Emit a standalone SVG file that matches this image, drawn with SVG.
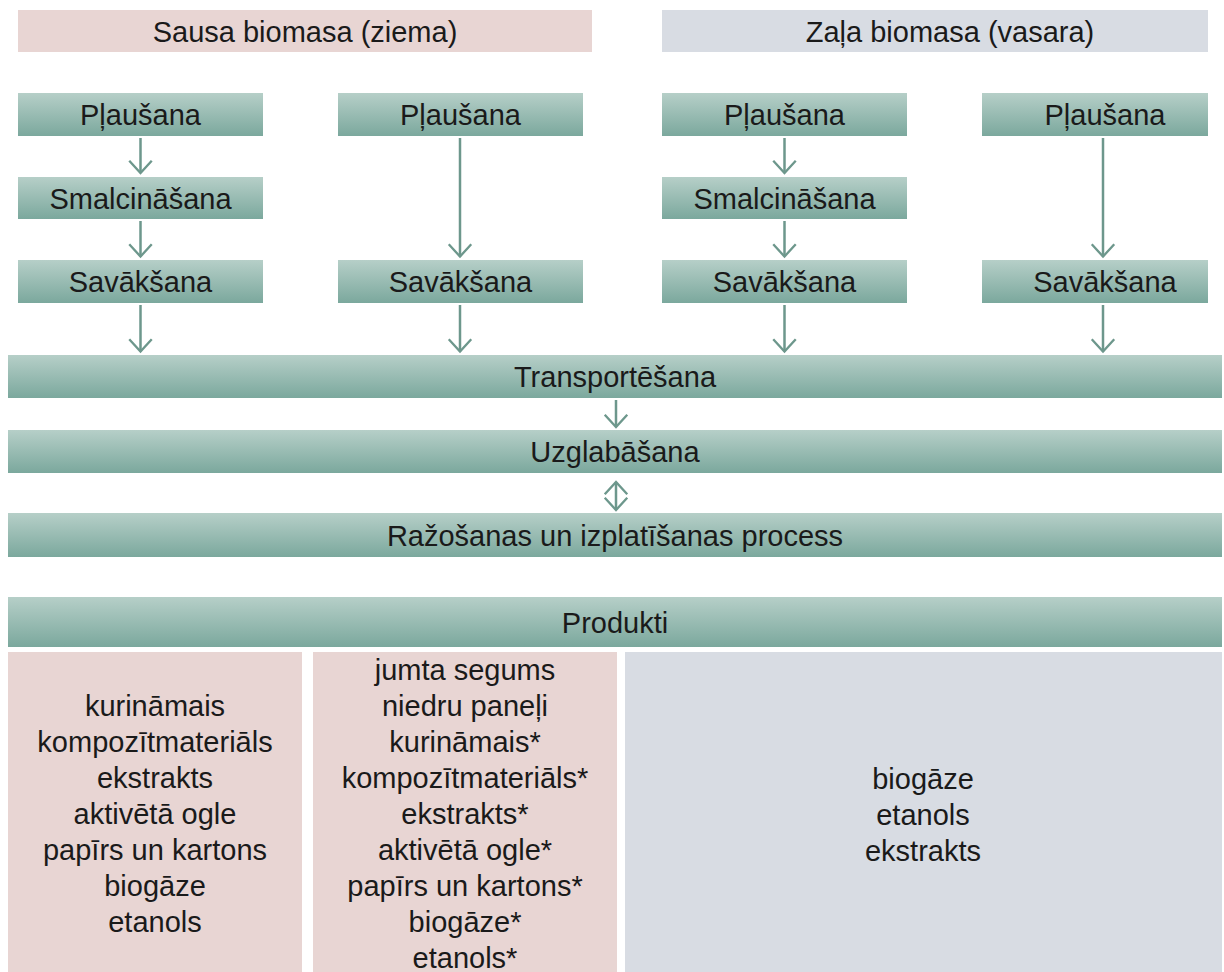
<svg xmlns="http://www.w3.org/2000/svg" width="1224" height="972" viewBox="0 0 1224 972">
<style>
text{font-family:"Liberation Sans",Arial,sans-serif;font-size:29px;fill:#1a1a1a;text-anchor:middle}
.g{fill:url(#gr)}
.pk{fill:#e8d5d3}
.gy{fill:#d8dce3}
.c{stroke:#6d978c;stroke-width:2.5;fill:none}
</style>
<defs>
<linearGradient id="gr" x1="0" y1="0" x2="0" y2="1">
<stop offset="0" stop-color="#b6cfc8"/>
<stop offset="1" stop-color="#7ba89d"/>
</linearGradient>
<marker id="ah" markerUnits="userSpaceOnUse" markerWidth="30" markerHeight="30" refX="0" refY="0" viewBox="-16 -16 32 32" orient="auto-start-reverse" overflow="visible">
<path d="M-13,-12 L0,0 L-13,12" fill="none" stroke="#6d978c" stroke-width="2.5"/>
</marker>
</defs>
<g id="hdr-sausa"><rect class="pk" x="18" y="10" width="574" height="42"/><text x="305" y="41.5">Sausa biomasa (ziema)</text></g>
<g id="hdr-zala"><rect class="gy" x="662" y="10" width="546" height="42"/><text x="950" y="41.5">Zaļa biomasa (vasara)</text></g>

<g id="c1-plausana"><rect class="g" x="18" y="93" width="245" height="43"/><text x="140.5" y="125">Pļaušana</text></g>
<g id="c1-smalc"><rect class="g" x="18" y="177" width="245" height="42"/><text x="140.5" y="208.5">Smalcināšana</text></g>
<g id="c1-savak"><rect class="g" x="18" y="260" width="245" height="43"/><text x="140.5" y="292">Savākšana</text></g>

<g id="c2-plausana"><rect class="g" x="338" y="93" width="245" height="43"/><text x="460.5" y="125">Pļaušana</text></g>
<g id="c2-savak"><rect class="g" x="338" y="260" width="245" height="43"/><text x="460.5" y="292">Savākšana</text></g>

<g id="c3-plausana"><rect class="g" x="662" y="93" width="245" height="43"/><text x="784.5" y="125">Pļaušana</text></g>
<g id="c3-smalc"><rect class="g" x="662" y="177" width="245" height="42"/><text x="784.5" y="208.5">Smalcināšana</text></g>
<g id="c3-savak"><rect class="g" x="662" y="260" width="245" height="43"/><text x="784.5" y="292">Savākšana</text></g>

<g id="c4-plausana"><rect class="g" x="982" y="93" width="226" height="43"/><text x="1105" y="125">Pļaušana</text></g>
<g id="c4-savak"><rect class="g" x="982" y="260" width="226" height="43"/><text x="1105" y="292">Savākšana</text></g>

<g id="transport"><rect class="g" x="8" y="355" width="1214" height="43"/><text x="615" y="387">Transportēšana</text></g>
<g id="uzglab"><rect class="g" x="8" y="430" width="1214" height="43"/><text x="615" y="462">Uzglabāšana</text></g>
<g id="razosana"><rect class="g" x="8" y="513" width="1214" height="44"/><text x="615" y="545.5">Ražošanas un izplatīšanas process</text></g>
<g id="produkti"><rect class="g" x="8" y="597" width="1214" height="50"/><text x="615" y="632.5">Produkti</text></g>

<g id="prod-sausa1"><rect class="pk" x="8" y="652" width="294" height="320"/>
<text x="155" y="716">kurināmais</text>
<text x="155" y="752">kompozītmateriāls</text>
<text x="155" y="788">ekstrakts</text>
<text x="155" y="824">aktivētā ogle</text>
<text x="155" y="860">papīrs un kartons</text>
<text x="155" y="896">biogāze</text>
<text x="155" y="932">etanols</text>
</g>
<g id="prod-sausa2"><rect class="pk" x="313" y="652" width="304" height="320"/>
<text x="465" y="680">jumta segums</text>
<text x="465" y="716">niedru paneļi</text>
<text x="465" y="752">kurināmais*</text>
<text x="465" y="788">kompozītmateriāls*</text>
<text x="465" y="824">ekstrakts*</text>
<text x="465" y="860">aktivētā ogle*</text>
<text x="465" y="896">papīrs un kartons*</text>
<text x="465" y="932">biogāze*</text>
<text x="465" y="968">etanols*</text>
</g>
<g id="prod-zala"><rect class="gy" x="625" y="652" width="597" height="320"/>
<text x="923" y="789">biogāze</text>
<text x="923" y="825">etanols</text>
<text x="923" y="861">ekstrakts</text>
</g>

<g id="connectors">
<line class="c" x1="140.5" y1="138" x2="140.5" y2="173" marker-end="url(#ah)"/>
<line class="c" x1="140.5" y1="221" x2="140.5" y2="256.5" marker-end="url(#ah)"/>
<line class="c" x1="140.5" y1="305" x2="140.5" y2="351.5" marker-end="url(#ah)"/>
<line class="c" x1="460" y1="138" x2="460" y2="256.5" marker-end="url(#ah)"/>
<line class="c" x1="460" y1="305" x2="460" y2="351.5" marker-end="url(#ah)"/>
<line class="c" x1="784.5" y1="138" x2="784.5" y2="173" marker-end="url(#ah)"/>
<line class="c" x1="784.5" y1="221" x2="784.5" y2="256.5" marker-end="url(#ah)"/>
<line class="c" x1="784.5" y1="305" x2="784.5" y2="351.5" marker-end="url(#ah)"/>
<line class="c" x1="1103" y1="138" x2="1103" y2="256.5" marker-end="url(#ah)"/>
<line class="c" x1="1103" y1="305" x2="1103" y2="351.5" marker-end="url(#ah)"/>
<line class="c" x1="616" y1="400" x2="616" y2="427" marker-end="url(#ah)"/>
<line class="c" x1="616" y1="482" x2="616" y2="510" marker-start="url(#ah)" marker-end="url(#ah)"/>
</g>
</svg>
